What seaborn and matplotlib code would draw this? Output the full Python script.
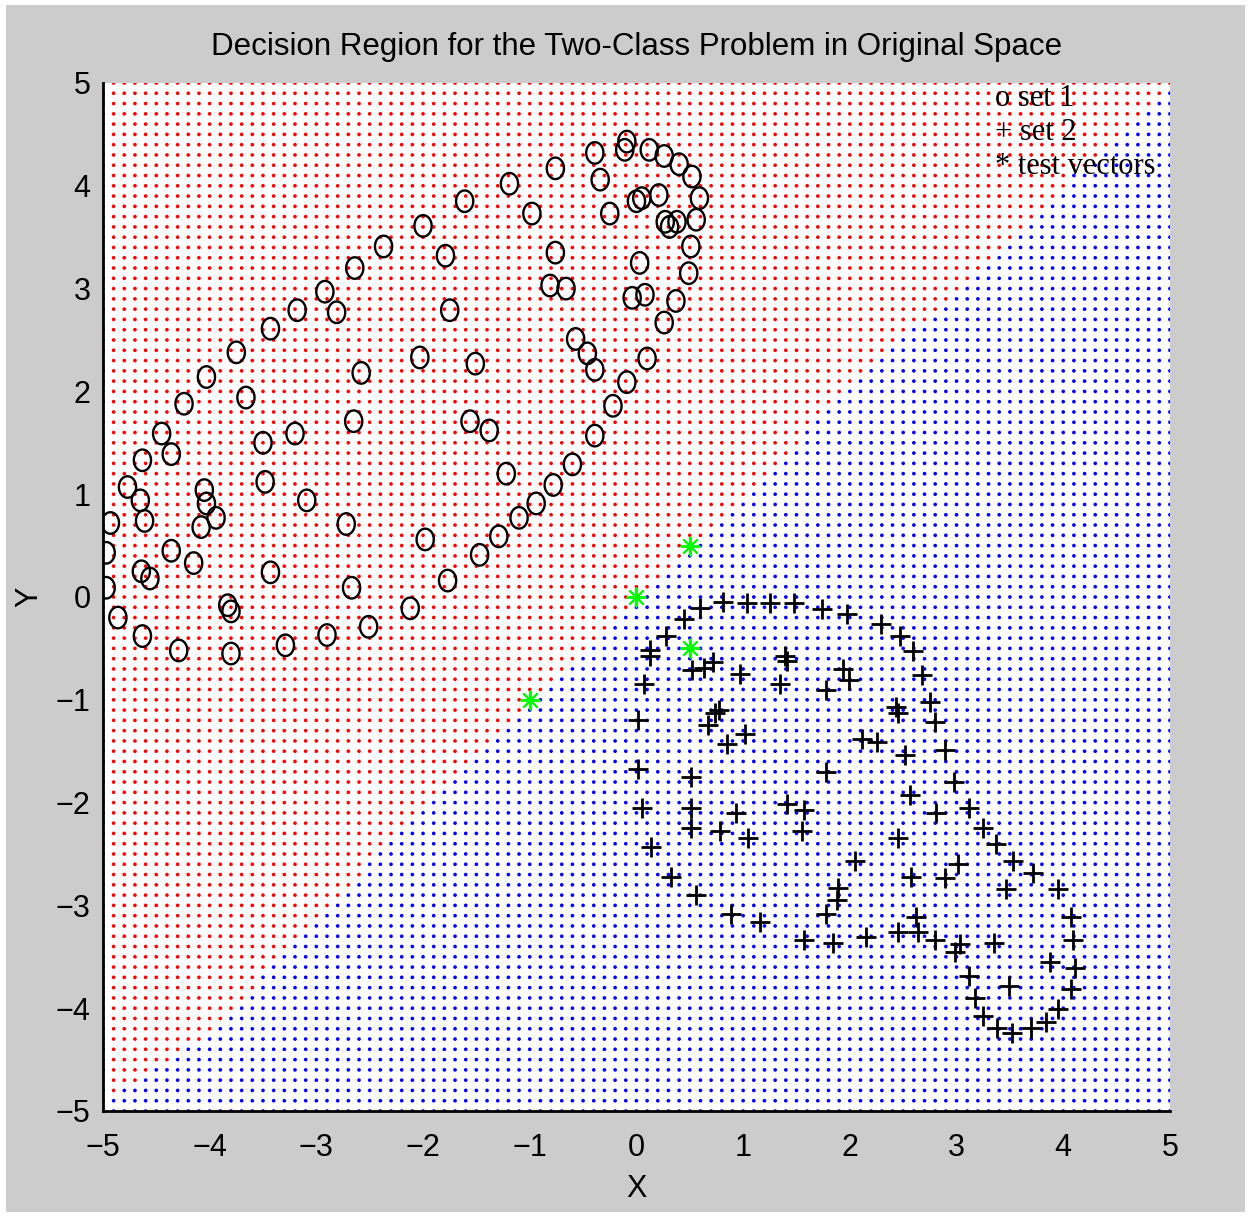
import numpy as np
import pandas as pd
import matplotlib
matplotlib.use("Agg")
import matplotlib.pyplot as plt
import seaborn as sns
from matplotlib.patches import Rectangle
from matplotlib.path import Path

# =====================================
# DATA
# =====================================

set1_x = [-2.37, -2.64, -2.92, -2.81, -3.18, -3.43, -3.75, -4.03, -2.58, -2.00,
          -1.79, -1.61, -1.19, -0.98, -0.76, -0.76, -0.81, -0.66, -1.75, -2.03,
          -1.51, -0.39, -0.34, -0.25, -0.09, -0.11, 0.12, 0.26, 0.40, 0.52,
          0.59, 0.56, 0.51, 0.49, 0.37, 0.26, 0.10, 0.00, 0.05, 0.21,
          0.27, 0.31, 0.38, 0.03, -0.04, 0.08, -0.57, -0.46, -0.39, -0.09,
          -0.22, -0.39, -0.60, -0.78, -0.94, -1.10, -1.29, -1.47, -1.77, -2.12,
          -1.56, -1.38, -1.22, -1.98, -3.66, -4.24, -2.65, -4.45, -3.20, -3.50,
          -4.36, -4.63, -3.48, -4.77, -4.65, -4.05, -4.03, -3.09, -4.61, -3.94,
          -4.08, -2.72, -4.93, -4.36, -4.15, -3.43, -4.64, -4.56, -4.97, -4.97,
          -2.67, -3.83, -3.80, -4.86, -2.51, -4.63, -2.90, -3.29, -4.29, -3.80]
set1_y = [3.41, 3.20, 2.97, 2.77, 2.79, 2.61, 2.38, 2.14, 2.18, 3.61,
          3.32, 3.85, 4.02, 3.73, 4.17, 3.35, 3.03, 3.00, 2.79, 2.33,
          2.27, 4.32, 4.06, 3.73, 4.43, 4.35, 4.35, 4.29, 4.21, 4.09,
          3.88, 3.67, 3.41, 3.15, 2.88, 2.67, 2.32, 3.85, 3.88, 3.91,
          3.65, 3.60, 3.65, 3.25, 2.91, 2.94, 2.51, 2.37, 2.21, 2.09,
          1.86, 1.57, 1.29, 1.09, 0.91, 0.77, 0.59, 0.41, 0.16, -0.11,
          1.71, 1.62, 1.20, 0.56, 1.94, 1.88, 1.71, 1.59, 1.59, 1.50,
          1.39, 1.33, 1.12, 1.07, 0.94, 1.04, 0.91, 0.94, 0.74, 0.77,
          0.68, 0.71, 0.72, 0.45, 0.33, 0.24, 0.25, 0.18, 0.43, 0.09,
          0.09, -0.08, -0.14, -0.20, -0.29, -0.38, -0.37, -0.47, -0.52, -0.55]

set2_x = [0.60, 0.81, 1.04, 1.25, 1.48, 1.74, 1.97, 2.29, 2.47, 2.59,
          2.68, 2.75, 2.43, 2.45, 2.80, 2.11, 2.25, 2.52, 2.89, 2.98,
          2.56, 2.81, 3.12, 2.45, 3.25, 3.37, 2.05, 3.53, 3.72, 3.01,
          2.57, 2.89, 3.46, 3.95, 2.62, 4.07, 2.15, 2.45, 2.64, 2.80,
          3.03, 2.99, 3.35, 4.09, 3.88, 4.11, 3.12, 3.49, 4.07, 3.17,
          3.95, 3.25, 3.84, 3.38, 3.70, 3.52, 0.45, 0.28, 0.13, 0.13,
          0.72, 0.63, 0.52, 1.39, 1.41, 0.97, 1.35, 0.07, 1.78, 1.94,
          1.99, 0.77, 0.74, 0.67, 0.01, 1.02, 0.85, 0.01, 0.51, 1.78,
          0.05, 0.51, 0.51, 0.93, 1.41, 1.57, 0.78, 1.05, 1.55, 0.14,
          0.32, 0.56, 1.89, 1.88, 1.78, 0.89, 1.16, 1.57, 1.84]
set2_y = [-0.11, -0.05, -0.06, -0.06, -0.06, -0.12, -0.17, -0.26, -0.38, -0.53,
          -0.76, -1.02, -1.07, -1.13, -1.22, -1.38, -1.41, -1.54, -1.49, -1.80,
          -1.93, -2.10, -2.05, -2.34, -2.25, -2.40, -2.57, -2.57, -2.68, -2.60,
          -2.72, -2.73, -2.84, -2.84, -3.11, -3.11, -3.31, -3.26, -3.26, -3.34,
          -3.38, -3.45, -3.37, -3.34, -3.55, -3.61, -3.69, -3.78, -3.81, -3.90,
          -4.01, -4.08, -4.13, -4.19, -4.19, -4.24, -0.21, -0.38, -0.52, -0.57,
          -0.63, -0.69, -0.71, -0.57, -0.62, -0.75, -0.85, -0.85, -0.90, -0.70,
          -0.81, -1.10, -1.13, -1.25, -1.20, -1.33, -1.43, -1.67, -1.75, -1.70,
          -2.05, -2.05, -2.25, -2.10, -2.01, -2.07, -2.28, -2.34, -2.28, -2.43,
          -2.72, -2.90, -2.83, -2.95, -3.08, -3.08, -3.16, -3.34, -3.37]

test_x = [-1.0, 0.0, 0.5, 0.5]
test_y = [-1.0, 0.0, 0.5, -0.5]

# decision boundary (set 1 region lies above it)
boundary_x = [-5.0, -4.75, -4.05, -3.05, -2.05, -1.0, -0.13, 0.05, 0.55, 1.55, 2.6, 3.7, 4.1, 4.75, 5.0]
boundary_y = [-4.95, -4.75, -4.3, -3.2, -2.1, -1.05, -0.2, 0.0, 0.5, 1.55, 2.6, 3.65, 4.1, 4.7, 4.9]

ticks = list(range(-5, 6))
legend_lines = ["o set 1", "+ set 2", "* test vectors"]

# =====================================
# STYLE
# =====================================

sns.set_style("white")
plt.rcParams["font.family"] = ["Liberation Sans Narrow", "Liberation Sans", "DejaVu Sans"]
plt.rcParams["text.color"] = "black"
plt.rcParams["axes.labelcolor"] = "black"

# evaluation mesh for the decision region
gx, gy = np.meshgrid(np.linspace(-5, 5, 101), np.linspace(-5, 5, 101))
grid = pd.DataFrame({"x": gx.ravel(), "y": gy.ravel()})
grid["region"] = np.where(
    grid["y"] > np.interp(grid["x"], boundary_x, boundary_y), "set 1", "set 2"
)

# slightly tall ellipse, like the bitmap 'o' marker
t = np.linspace(0, 2 * np.pi, 60)
ellipse = Path(np.column_stack([0.8 * np.cos(t), np.sin(t)]))

# =====================================
# FIGURE
# =====================================

fig = plt.figure(figsize=(12.51, 12.17), dpi=100, facecolor="white")
fig.patches.append(Rectangle((0.005, 0.004), 0.99, 0.992, transform=fig.transFigure,
                             facecolor="#cccccc", edgecolor="none", zorder=-10))

ax = fig.add_axes([0.0823, 0.0871, 0.8529, 0.8447])
ax.set_facecolor("white")

sns.scatterplot(
    data=grid, x="x", y="y", hue="region",
    palette={"set 1": "#ff0000", "set 2": "#0000ff"},
    marker="o", s=7, linewidth=0, legend=False, ax=ax, zorder=1
)

sns.scatterplot(
    x=set1_x, y=set1_y, marker=ellipse, s=240,
    facecolor="none", edgecolor="black", linewidth=1.7, ax=ax, zorder=3
)

sns.scatterplot(
    x=set2_x, y=set2_y, marker="+", s=200,
    color="black", linewidth=2.0, ax=ax, zorder=3
)

sns.scatterplot(
    x=test_x, y=test_y, marker=(8, 2, 0), s=170,
    color="#00ff00", linewidth=1.4, ax=ax, zorder=4
)

ax.set_xlim(-5, 5)
ax.set_ylim(-5, 5)
ax.set_xticks(ticks)
ax.set_yticks(ticks)

ax.tick_params(axis="both", direction="in", length=9, width=1.5,
               labelsize=22, colors="black")
ax.tick_params(axis="x", pad=16)
ax.tick_params(axis="y", pad=9)

for side in ["top", "right"]:
    ax.spines[side].set_visible(False)
for side in ["left", "bottom"]:
    ax.spines[side].set_color("black")
    ax.spines[side].set_linewidth(2)

ax.set_title("Decision Region for the Two-Class Problem in Original Space",
             fontsize=22.5, pad=20, color="black")
ax.set_xlabel("X", fontsize=22, labelpad=8)
ax.set_ylabel("Y", fontsize=22, labelpad=8)

for i, line in enumerate(legend_lines):
    ax.text(0.836, 0.985 - 0.033 * i, line, transform=ax.transAxes, color="black",
            fontsize=22, family="Liberation Serif", va="center", ha="left", zorder=5)

fig.savefig("out.png", dpi=100, facecolor=fig.get_facecolor())
